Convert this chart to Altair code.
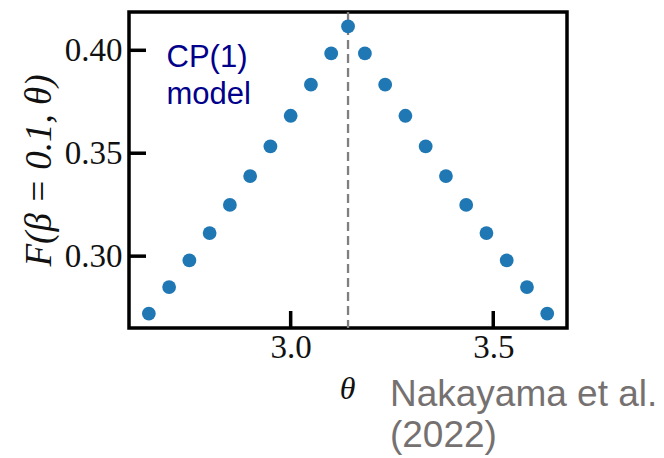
import altair as alt
import pandas as pd

# ---- data ----
theta = [2.65, 2.70, 2.75, 2.80, 2.85, 2.90, 2.95, 3.00, 3.05, 3.10,
         3.1416,
         3.1832, 3.2332, 3.2832, 3.3332, 3.3832, 3.4332, 3.4832, 3.5332, 3.5832, 3.6332]
F = [0.2721, 0.2850, 0.2979, 0.3112, 0.3249, 0.3389, 0.3533, 0.3682, 0.3833, 0.3985,
     0.4116,
     0.3985, 0.3833, 0.3682, 0.3533, 0.3389, 0.3249, 0.3112, 0.2979, 0.2850, 0.2721]
x_ticks = [3.0, 3.5]
y_ticks = [0.30, 0.35, 0.40]
peak_theta = [3.1416]
model_text = ["CP(1)", "model"]
cite_text = ["Nakayama et al.", "(2022)"]

# ---- layout ----
W, H = 438, 316
TICK = 17
serif = "Liberation Serif"
sans = "Liberation Sans"

xscale = alt.Scale(domain=[2.601, 3.682], nice=False, zero=False)
yscale = alt.Scale(domain=[0.2651, 0.4186], nice=False, zero=False)

xaxis = alt.Axis(values=x_ticks, format=".1f", ticks=False, domain=False, grid=False,
                 labelFont=serif, labelFontSize=33, labelColor="#111111", labelPadding=3,
                 title="θ", titleFont=serif, titleFontStyle="italic", titleFontWeight="normal",
                 titleFontSize=32, titleColor="#111111", titleX=218, titleY=60,
                 titleBaseline="middle", titleAlign="center")
yaxis = alt.Axis(values=y_ticks, format=".2f", ticks=False, domain=False, grid=False,
                 labelFont=serif, labelFontSize=33, labelColor="#111111", labelPadding=7,
                 title="F(β = 0.1, θ)", titleFont=serif, titleFontStyle="italic",
                 titleFontWeight="normal", titleFontSize=37, titleColor="#111111",
                 titleX=-90, titleY=H / 2, titleAngle=-90,
                 titleBaseline="middle", titleAlign="center")

df = pd.DataFrame({"theta": theta, "F": F})

points = alt.Chart(df).mark_circle(size=190, color="#1f77b4", opacity=1).encode(
    x=alt.X("theta:Q", scale=xscale, axis=xaxis),
    y=alt.Y("F:Q", scale=yscale, axis=yaxis),
)

vline = alt.Chart(pd.DataFrame({"theta": peak_theta})).mark_rule(
    color="#7f7f7f", strokeDash=[9, 5], strokeWidth=2.3
).encode(x=alt.X("theta:Q", scale=xscale), y=alt.value(0), y2=alt.value(H))

xt = alt.Chart(pd.DataFrame({"theta": x_ticks})).mark_rule(
    color="black", strokeWidth=3.5
).encode(x=alt.X("theta:Q", scale=xscale), y=alt.value(H), y2=alt.value(H - TICK))

yt = alt.Chart(pd.DataFrame({"F": y_ticks})).mark_rule(
    color="black", strokeWidth=3.5
).encode(y=alt.Y("F:Q", scale=yscale), x=alt.value(0), x2=alt.value(TICK))

model = alt.Chart(pd.DataFrame({"theta": [2.6936], "F": [0.3917]})).mark_text(
    text=model_text, align="left", baseline="alphabetic", font=sans, fontSize=31,
    lineHeight=37, color="#00008B"
).encode(x=alt.X("theta:Q", scale=xscale), y=alt.Y("F:Q", scale=yscale))

cite = alt.Chart(pd.DataFrame({"theta": [3.245], "F": [0.2272]})).mark_text(
    text=cite_text, align="left", baseline="alphabetic", font=sans, fontSize=37,
    lineHeight=41, color="#767171"
).encode(x=alt.X("theta:Q", scale=xscale), y=alt.Y("F:Q", scale=yscale))

chart = alt.layer(vline, points, xt, yt, model, cite).properties(
    width=W, height=H,
    autosize=alt.AutoSizeParams(type="none"),
    padding={"left": 129, "top": 12, "right": 664 - 129 - W, "bottom": 458 - 12 - H},
    background="white",
).configure_view(stroke="black", strokeWidth=3.5)

chart.save("out.html", embed_options={"renderer": "svg", "actions": False})
